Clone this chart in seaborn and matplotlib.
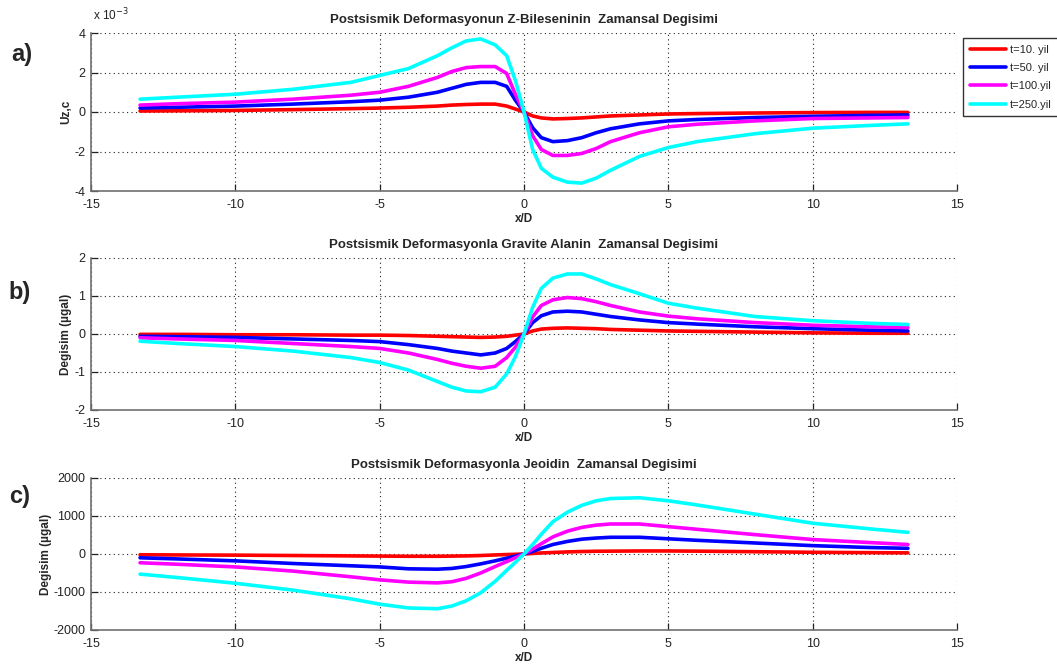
import numpy as np
import pandas as pd
import matplotlib
matplotlib.use("Agg")
import matplotlib.pyplot as plt
import seaborn as sns

# ---------------- data ----------------
x_vals = [-13.3, -12, -10, -8, -6, -5, -4, -3, -2.5, -2, -1.5, -1, -0.6, -0.3, 0,
          0.3, 0.6, 1, 1.5, 2, 2.5, 3, 4, 5, 6, 8, 10, 12, 13.3]
series_labels = ["t=10. yil", "t=50. yil", "t=100.yil", "t=250.yil"]
series_colors = ["#ff0000", "#0000ff", "#ff00ff", "#00ffff"]

# panel a: Uz (x 1e-3)
uz_t10 = [0.05, 0.06, 0.08, 0.12, 0.17, 0.2, 0.24, 0.3, 0.35, 0.38, 0.4, 0.4, 0.3, 0.15, 0,
          -0.2, -0.3, -0.35, -0.33, -0.3, -0.25, -0.2, -0.15, -0.1, -0.08, -0.05, -0.03, -0.02, -0.02]
uz_t50 = [0.2, 0.24, 0.3, 0.4, 0.52, 0.6, 0.75, 1.0, 1.2, 1.4, 1.5, 1.5, 1.3, 0.6, 0,
          -0.8, -1.3, -1.5, -1.45, -1.3, -1.05, -0.85, -0.6, -0.45, -0.38, -0.28, -0.22, -0.17, -0.15]
uz_t100 = [0.35, 0.42, 0.5, 0.65, 0.85, 1.0, 1.3, 1.75, 2.05, 2.25, 2.3, 2.3, 1.95, 0.9, 0,
           -1.2, -1.9, -2.2, -2.2, -2.1, -1.85, -1.5, -1.05, -0.75, -0.62, -0.45, -0.33, -0.3, -0.28]
uz_t250 = [0.65, 0.75, 0.9, 1.15, 1.5, 1.85, 2.2, 2.85, 3.25, 3.6, 3.7, 3.4, 2.85, 1.6, 0,
           -1.9, -2.85, -3.3, -3.55, -3.6, -3.35, -2.95, -2.25, -1.8, -1.5, -1.1, -0.82, -0.68, -0.6]

# panel b: gravity change (ugal)
g_t10 = [-0.01, -0.01, -0.02, -0.02, -0.03, -0.03, -0.04, -0.06, -0.07, -0.08, -0.09, -0.08, -0.06, -0.03, 0,
         0.08, 0.13, 0.15, 0.16, 0.15, 0.14, 0.12, 0.1, 0.08, 0.07, 0.05, 0.03, 0.02, 0.02]
g_t50 = [-0.06, -0.07, -0.09, -0.13, -0.17, -0.2, -0.28, -0.38, -0.45, -0.5, -0.55, -0.5, -0.38, -0.2, 0,
         0.3, 0.48, 0.58, 0.6, 0.58, 0.52, 0.46, 0.37, 0.3, 0.26, 0.19, 0.14, 0.1, 0.08]
g_t100 = [-0.1, -0.13, -0.17, -0.25, -0.33, -0.38, -0.5, -0.67, -0.77, -0.85, -0.9, -0.85, -0.62, -0.35, 0,
          0.45, 0.75, 0.9, 0.96, 0.93, 0.85, 0.75, 0.58, 0.47, 0.4, 0.3, 0.23, 0.19, 0.17]
g_t250 = [-0.19, -0.25, -0.33, -0.45, -0.62, -0.75, -0.95, -1.25, -1.4, -1.5, -1.52, -1.4, -1.05, -0.6, 0,
          0.7, 1.2, 1.47, 1.58, 1.58, 1.45, 1.3, 1.06, 0.81, 0.68, 0.46, 0.35, 0.28, 0.25]

# panel c: geoid change
n_t10 = [-20, -25, -30, -40, -50, -55, -60, -60, -55, -50, -40, -25, -15, -8, 0,
         15, 28, 40, 55, 65, 72, 75, 80, 80, 75, 60, 45, 35, 30]
n_t50 = [-100, -130, -180, -250, -310, -340, -390, -400, -380, -330, -260, -180, -110, -55, 0,
         70, 150, 250, 330, 390, 420, 440, 440, 400, 360, 290, 220, 170, 150]
n_t100 = [-230, -270, -340, -450, -600, -680, -740, -760, -730, -640, -500, -330, -200, -100, 0,
          130, 270, 450, 600, 700, 760, 790, 790, 720, 650, 510, 380, 300, 250]
n_t250 = [-530, -620, -770, -950, -1180, -1320, -1420, -1440, -1370, -1230, -1020, -720, -430, -220, 0,
          250, 520, 850, 1100, 1280, 1400, 1460, 1480, 1400, 1290, 1050, 810, 660, 570]

x_ticks = [-15, -10, -5, 0, 5, 10, 15]

titles = ["Postsismik Deformasyonun Z-Bileseninin  Zamansal Degisimi",
          "Postsismik Deformasyonla Gravite Alanin  Zamansal Degisimi",
          "Postsismik Deformasyonla Jeoidin  Zamansal Degisimi"]
ylabels = ["Uz,c", "Degisim (\u00b5gal)", "Degisim (\u00b5gal)"]
yticks_list = [[-4, -2, 0, 2, 4], [-2, -1, 0, 1, 2], [-2000, -1000, 0, 1000, 2000]]
panel_letters = ["a)", "b)", "c)"]

panels = [[uz_t10, uz_t50, uz_t100, uz_t250],
          [g_t10, g_t50, g_t100, g_t250],
          [n_t10, n_t50, n_t100, n_t250]]

# ---------------- plot ----------------
sns.set_theme(style="white")
plt.rcParams['font.family'] = ['Liberation Sans', 'DejaVu Sans']
plt.rcParams['axes.unicode_minus'] = False

W, H = 1057, 669
fig = plt.figure(figsize=(W / 100, H / 100), dpi=100)

ax_boxes = [(91, 33, 957, 191), (91, 258, 957, 410), (91, 478, 957, 630)]
axes = []
for (l, t, r, b) in ax_boxes:
    axes.append(fig.add_axes([l / W, 1 - b / H, (r - l) / W, (b - t) / H]))

for i, ax in enumerate(axes):
    frames = []
    for lab, vals in zip(series_labels, panels[i]):
        frames.append(pd.DataFrame({"x": x_vals, "y": vals, "series": lab}))
    df = pd.concat(frames, ignore_index=True)
    sns.lineplot(data=df, x="x", y="y", hue="series", hue_order=series_labels,
                 palette=series_colors, linewidth=2.6, sort=False,
                 legend=(i == 0), ax=ax)
    ax.set_xlim(-15, 15)
    yt = yticks_list[i]
    ax.set_ylim(yt[0], yt[-1])
    ax.set_xticks(x_ticks)
    ax.set_yticks(yt)
    ax.grid(True, linestyle=(0, (1, 3)), color="#222222", linewidth=0.8)
    for s in ["top", "right"]:
        ax.spines[s].set_visible(False)
    for s in ["left", "bottom"]:
        ax.spines[s].set_color("#707070")
        ax.spines[s].set_linewidth(1.2)
    ax.tick_params(direction="in", length=5, width=0.9, colors="#222222",
                   labelsize=9, left=True, bottom=True)
    ax.tick_params(axis="x", pad=6)
    ax.tick_params(axis="y", pad=4)
    ax.set_title(titles[i], fontsize=9.5, fontweight="bold", pad=7)
    ax.set_xlabel("x/D", fontsize=8.5, fontweight="bold", labelpad=1)
    ax.set_ylabel(ylabels[i], fontsize=8.5, fontweight="bold")

axes[0].yaxis.set_label_coords(-0.022, 0.5)
axes[1].yaxis.set_label_coords(-0.022, 0.5)
axes[2].yaxis.set_label_coords(-0.045, 0.5)

# legend
leg = axes[0].get_legend()
handles, labels = axes[0].get_legend_handles_labels()
leg.remove()
fig.legend(handles, labels, loc="upper left", bbox_to_anchor=(963 / W, 1 - 38 / H),
           fontsize=8, frameon=True, fancybox=False, edgecolor="#333333",
           framealpha=1, borderaxespad=0, handlelength=3.3, labelspacing=0.75,
           handletextpad=0.3, borderpad=0.6)

# exponent text
fig.text(93 / W, 1 - 20 / H, r"x 10$^{-3}$", fontsize=8.5, color="#222222",
         ha="left", va="baseline")

# panel letters
for letter, (px, py) in zip(panel_letters, [(22, 55), (20, 292), (20, 497)]):
    fig.text(px / W, 1 - py / H, letter, fontsize=17, fontweight="bold",
             ha="center", va="center")

fig.savefig("out.png", dpi=100, facecolor="white")
